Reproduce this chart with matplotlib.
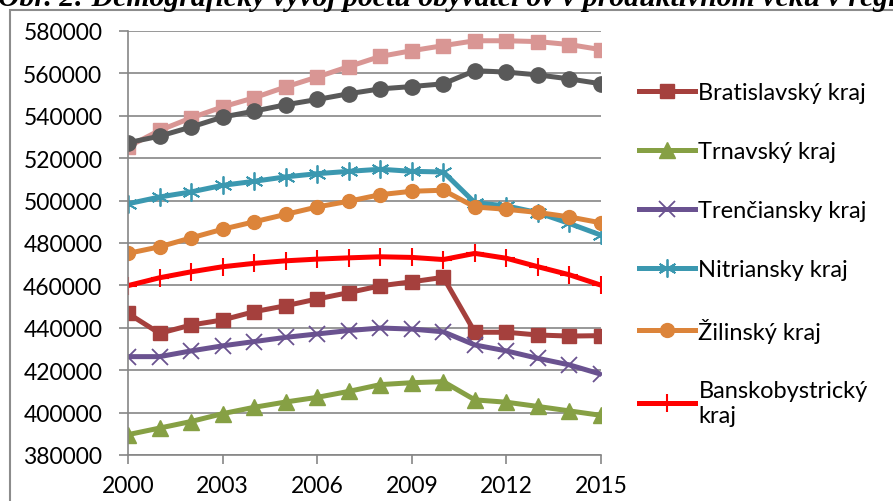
import matplotlib.pyplot as plt
from matplotlib.patches import Rectangle

# ---------- data ------------------------------------------------------------
years = list(range(2000, 2016))

bratislavsky = [446800, 437400, 441300, 443700, 447600, 450400, 453600, 456600,
                459800, 461700, 463800, 437900, 437900, 436600, 436100, 436300]
trnavsky = [389600, 392700, 395800, 399500, 402500, 405000, 407200, 410000,
            413200, 414100, 414600, 406000, 404900, 402900, 400800, 398700]
trenciansky = [426400, 426400, 429100, 431500, 433500, 435500, 437100, 438700,
               439900, 439400, 438100, 431900, 429100, 425600, 422500, 418100]
nitriansky = [498500, 501700, 504100, 507200, 509100, 511200, 512700, 513800,
              514800, 513800, 513500, 499000, 497500, 494300, 489200, 483700]
zilinsky = [475100, 478200, 482400, 486500, 490000, 493500, 497000, 499700,
            502800, 504400, 504900, 497000, 495900, 494400, 492300, 489500]
banskobystricky = [459900, 463600, 466400, 468800, 470400, 471600, 472400, 473000,
                   473500, 473200, 472200, 475100, 472800, 468800, 465000, 460100]
presovsky = [525400, 533100, 539000, 544200, 548500, 553600, 558300, 563200,
             568000, 570700, 573100, 575400, 575400, 575000, 573600, 571200]
kosicky = [527300, 530400, 534700, 539400, 542200, 545200, 547700, 550400,
           552700, 553800, 555100, 561300, 560600, 559300, 557400, 555100]

legend_names = ['Bratislavský kraj', 'Trnavský kraj', 'Trenčiansky kraj',
                'Nitriansky kraj', 'Žilinský kraj', 'Banskobystrický\nkraj']

# ---------- figure ------------------------------------------------------------
plt.rcParams['font.family'] = ['Lato', 'DejaVu Sans']
fig = plt.figure(figsize=(8.93, 5.02), dpi=100)
ax = fig.add_axes([128 / 893, 1 - 456 / 502, 473 / 893, 424 / 502])

lw = 3.6
# series not in the visible legend (drawn first, behind the others)
ax.plot(years, presovsky, color='#d99694', lw=lw, marker='s', ms=10, zorder=2)
ax.plot(years, kosicky, color='#595959', lw=lw, marker='o', ms=11, zorder=2)

handles = []
handles += ax.plot(years, bratislavsky, color='#a5403d', lw=lw, marker='s', ms=10)
handles += ax.plot(years, trnavsky, color='#86a044', lw=lw, marker='^', ms=12)
handles += ax.plot(years, trenciansky, color='#6a5290', lw=lw, marker='x', ms=11,
                   mew=1.3)
handles += ax.plot(years, nitriansky, color='#3b98b0', lw=lw, marker=(6, 2, 0),
                   ms=13, mew=1.3)
handles += ax.plot(years, zilinsky, color='#dc843a', lw=lw, marker='o', ms=10)
handles += ax.plot(years, banskobystricky, color='#ff0000', lw=lw, marker='+',
                   ms=13, mew=1.5)

# ---------- axes styling ---------------------------------------------------
grey = '#868686'
ax.set_xlim(2000, 2015)
ax.set_ylim(380000, 580000)
ax.set_xticks(range(2000, 2016, 3))
ax.set_yticks(range(380000, 580001, 20000))
ax.grid(axis='y', color=grey, lw=1.2)
ax.set_axisbelow(True)
for s in ['top', 'right']:
    ax.spines[s].set_visible(False)
for s in ['left', 'bottom']:
    ax.spines[s].set_color(grey)
    ax.spines[s].set_linewidth(1.2)
ax.tick_params(axis='both', colors=grey, labelcolor='black', labelsize=16.5,
               length=6.5, width=1.2)
ax.tick_params(axis='y', pad=12)
ax.tick_params(axis='x', pad=8)

# ---------- legend -----------------------------------------------------------
fig.legend(handles, legend_names, loc='upper left',
           bbox_to_anchor=(630 / 893, 1 - 74 / 502), frameon=False,
           fontsize=17, handlelength=2.35, handletextpad=0.15,
           labelspacing=1.6, borderaxespad=0)

# ---------- outer frame and cut title ----------------------------------------
fig.patches.append(Rectangle((10 / 893, -0.1), 1.0, 1.1 - 11 / 502,
                             transform=fig.transFigure, fill=False,
                             edgecolor='#8c8c8c', lw=1.5))
fig.text(-2 / 893, 1 - 6 / 502,
         'Obr. 2: Demografický vývoj počtu obyvateľov v produktívnom veku v regiónoch',
         family='Liberation Serif', weight='bold', style='italic', fontsize=21.4,
         va='baseline', ha='left')

fig.savefig('out.png', dpi=100)
